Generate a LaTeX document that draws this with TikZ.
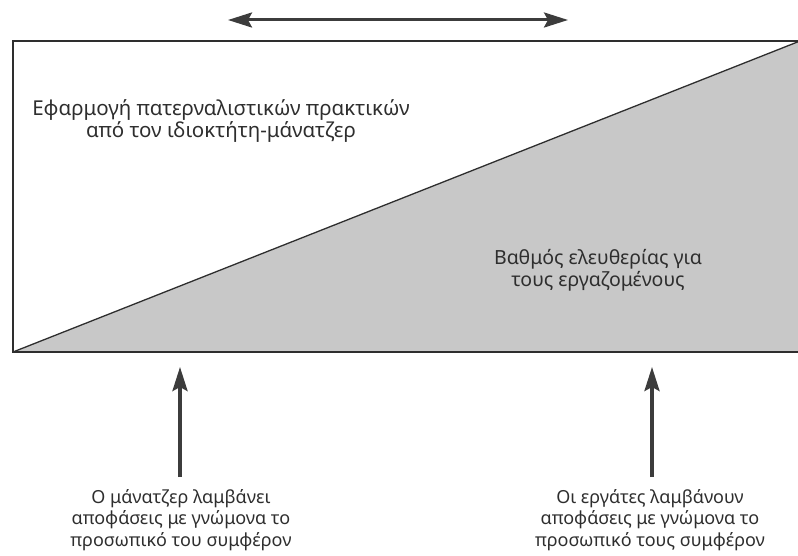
\documentclass[tikz,border=0pt]{standalone}
\usepackage{fontspec}
\setmainfont{Noto Sans}
\usetikzlibrary{arrows.meta}
\definecolor{ink}{HTML}{2E2E2E}
\definecolor{arrowink}{HTML}{3C3C3C}
\definecolor{trifill}{HTML}{C8C8C8}
\tikzset{
  lbl/.style={text=ink, inner sep=0pt, align=center},
  toptext/.style={lbl, font=\fontsize{20.5}{21.5}\selectfont},
  midtext/.style={lbl, font=\fontsize{19.5}{22}\selectfont},
  bottext/.style={lbl, font=\fontsize{18}{21.5}\selectfont},
  thickarrow/.style={draw=arrowink, line width=3.5pt, -{Stealth[length=24pt,width=15pt,inset=4pt]}},
}
\begin{document}
\begin{tikzpicture}[x=1pt,y=-1pt]
\useasboundingbox (0,0) rectangle (798,556);
% shaded triangle
\fill[trifill] (13,352) -- (800,41) -- (800,352) -- cycle;
\draw[ink, line width=1.3pt] (13,352) -- (800,41);
% rectangle frame
\draw[ink, line width=2pt] (800,41) -- (13,41) -- (13,352) -- (800,352);
% top double arrow
\coordinate (tl) at (228,20);
\coordinate (tr) at (568,20);
\draw[draw=arrowink, line width=3pt, {Stealth[length=24pt,width=15pt,inset=4pt]}-{Stealth[length=24pt,width=15pt,inset=4pt]}] (tl) -- (tr);
% texts inside
\node[toptext] (pat) at (221,121) {Εφαρμογή πατερναλιστικών πρακτικών\\από τον ιδιοκτήτη-μάνατζερ};
\node[midtext] (free) at (598,270) {Βαθμός ελευθερίας για\\τους εργαζομένους};
% bottom texts
\node[bottext] (mgr) at (181,520) {Ο μάνατζερ λαμβάνει\\αποφάσεις με γνώμονα το\\προσωπικό του συμφέρον};
\node[bottext] (wrk) at (650,520) {Οι εργάτες λαμβάνουν\\αποφάσεις με γνώμονα το\\προσωπικό τους συμφέρον};
\coordinate (mgrtip) at (180,367);
\coordinate (wrktip) at (652,367);
\draw[thickarrow, shorten <=12pt] (mgr.north -| mgrtip) -- (mgrtip);
\draw[thickarrow, shorten <=12pt] (wrk.north -| wrktip) -- (wrktip);
\end{tikzpicture}
\end{document}
